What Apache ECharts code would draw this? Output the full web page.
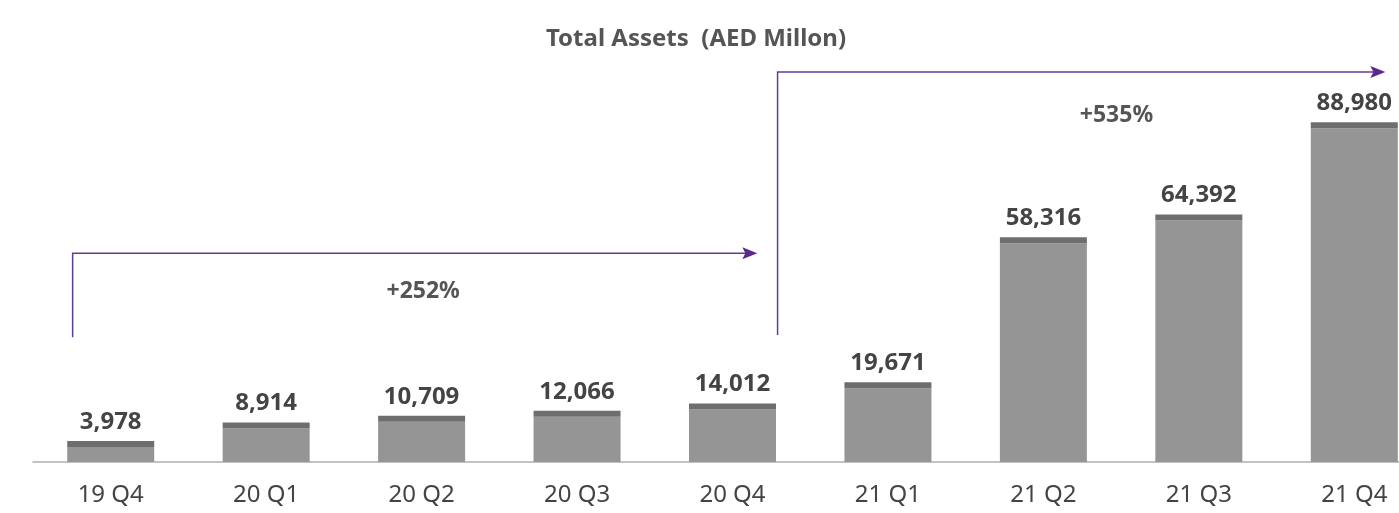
<!DOCTYPE html>
<html lang="en">
<head>
    <meta charset="UTF-8">
    <title>Total Assets (AED Millon)</title>
    <script src="https://cdn.jsdelivr.net/npm/echarts/dist/echarts.min.js"></script>
    <style>
        html, body { margin: 0; padding: 0; background: #fff; }
    </style>
</head>
<body>
    <div id="main" style="width: 1399px; height: 513px;"></div>

    <script>
        // Quarters and total assets (AED million)
        var quarters = ['19 Q4', '20 Q1', '20 Q2', '20 Q3', '20 Q4', '21 Q1', '21 Q2', '21 Q3', '21 Q4'];
        var totalAssets = [3978, 8914, 10709, 12066, 14012, 19671, 58316, 64392, 88980];

        // Growth annotations between quarters
        var growthLabels = ['+252%', '+535%'];
        var growthFrom = [0, 4];
        var growthTo = [4, 8];

        var chart = echarts.init(document.getElementById('main'));
        var font = '"Noto Sans", sans-serif';
        var purple = '#5a2a8c';

        var option = {
            backgroundColor: '#fff',
            title: {
                text: 'Total Assets  (AED Millon)',
                left: 691,
                textAlign: 'center',
                top: 22,
                textStyle: { fontFamily: font, fontSize: 24, fontWeight: 'bold', color: '#555' }
            },
            // the last bar runs off the right edge of the picture
            grid: { left: 33, width: 1399, top: 87, bottom: 51, outerBoundsMode: 'none', containLabel: false },
            xAxis: {
                type: 'category',
                data: quarters,
                axisTick: { show: false },
                axisLine: { lineStyle: { color: '#b0b0b0', width: 1.5 } },
                axisLabel: { fontFamily: font, fontSize: 24, color: '#444', margin: 21 }
            },
            yAxis: {
                type: 'value',
                min: 0,
                max: 100000,
                show: false,
                splitLine: { show: false }
            },
            series: [
                {
                    type: 'bar',
                    data: totalAssets,
                    barWidth: 87,
                    barGap: '-100%',
                    itemStyle: { color: '#959595' },
                    silent: true
                },
                {
                    // dark cap sitting on top of each bar
                    type: 'pictorialBar',
                    data: totalAssets,
                    symbol: 'rect',
                    symbolSize: [87, 6],
                    symbolPosition: 'end',
                    symbolOffset: [0, '-100%'],
                    itemStyle: { color: '#6e6e6e' },
                    z: 3,
                    silent: true,
                    label: {
                        show: true,
                        position: 'top',
                        distance: 7,
                        fontFamily: font,
                        fontSize: 24,
                        fontWeight: 'bold',
                        color: '#444',
                        formatter: function (p) {
                            return p.value.toLocaleString('en-US');
                        }
                    }
                }
            ]
        };

        chart.setOption(option);

        // Draw the growth arrows from the axis scales
        function px(i, v) {
            return chart.convertToPixel({ gridIndex: 0 }, [i, v]);
        }
        var step = px(1, 0)[0] - px(0, 0)[0];
        var arrowStartY = [33300, 33900];
        var arrowLevel = [55700, 104000];
        var startDx = [-0.245, 0.29];
        var endDx = [0.16, 0.2];
        // label anchor: category index, offset in steps, value
        var labelIdx = [2, 6];
        var labelDx = [0.01, 0.47];
        var labelVal = [45600, 92300];

        var graphics = [];
        for (var k = 0; k < growthLabels.length; k++) {
            var x0 = px(growthFrom[k], 0)[0] + startDx[k] * step;
            var x1 = px(growthTo[k], 0)[0] + endDx[k] * step;
            var y0 = px(0, arrowStartY[k])[1];
            var y1 = px(0, arrowLevel[k])[1];
            graphics.push({
                type: 'polyline',
                shape: { points: [[x0, y0], [x0, y1], [x1 - 10, y1]] },
                style: { stroke: '#643a96', lineWidth: 1.5, fill: null }
            });
            graphics.push({
                type: 'polygon',
                shape: { points: [[x1 - 15, y1 - 6], [x1, y1], [x1 - 15, y1 + 6], [x1 - 12, y1]] },
                style: { fill: purple }
            });
            var lp = px(labelIdx[k], labelVal[k]);
            graphics.push({
                type: 'text',
                x: lp[0] + labelDx[k] * step,
                y: lp[1],
                style: {
                    text: growthLabels[k],
                    font: 'bold 23px ' + font,
                    fill: '#555',
                    textAlign: 'center',
                    textVerticalAlign: 'middle'
                }
            });
        }
        chart.setOption({ graphic: graphics });
    </script>
</body>
</html>
